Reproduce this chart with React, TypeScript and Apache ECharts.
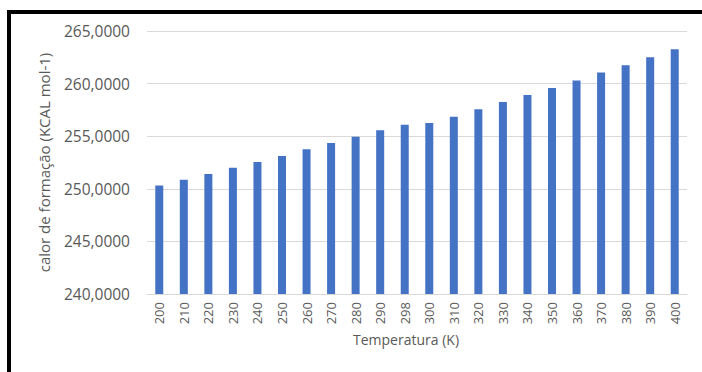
import React, { useEffect, useRef } from "react";
import * as echarts from "echarts";

const categories = ["200", "210", "220", "230", "240", "250", "260", "270", "280", "290", "298", "300", "310", "320", "330", "340", "350", "360", "370", "380", "390", "400"];
const values = [250.31, 250.86, 251.4, 252.0, 252.54, 253.11, 253.75, 254.35, 254.95, 255.56, 256.1, 256.25, 256.86, 257.55, 258.25, 258.92, 259.59, 260.29, 261.05, 261.75, 262.5, 263.27];
const yTicks = { min: 240, max: 265, interval: 5 };
const xTitle = "Temperatura (K)";
const yTitle = "calor de formação (KCAL mol-1)";

export default function App() {
  const ref = useRef<HTMLDivElement>(null);
  useEffect(() => {
    if (!ref.current) return;
    const chart = echarts.init(ref.current, null, { renderer: "svg" });
    const txt = "#595959";
    chart.setOption({
      animation: false,
      backgroundColor: "#ffffff",
      grid: { left: 147, right: 15, top: 31, bottom: 78, containLabel: false, outerBoundsMode: "none" },
      xAxis: {
        type: "category",
        data: categories,
        axisTick: { show: false },
        axisLine: { lineStyle: { color: "#d9d9d9", width: 1 } },
        axisLabel: { rotate: 90, margin: 8, color: txt, fontFamily: "Open Sans", fontSize: 13 },
        name: xTitle,
        nameLocation: "middle",
        nameGap: 38,
        nameTextStyle: { color: txt, fontFamily: "Open Sans", fontSize: 14, padding: [0, 22, 0, 0] },
      },
      yAxis: {
        type: "value",
        min: yTicks.min,
        max: yTicks.max,
        interval: yTicks.interval,
        axisLine: { show: false },
        axisTick: { show: false },
        splitLine: { lineStyle: { color: "#d9d9d9", width: 1 } },
        axisLabel: {
          margin: 17,
          color: txt,
          fontFamily: "Open Sans",
          fontSize: 15.5,
          formatter: (v: number) => v.toFixed(4).replace(".", ","),
        },
        name: yTitle,
        nameLocation: "middle",
        nameGap: 96,
        nameTextStyle: { color: txt, fontFamily: "Open Sans", fontSize: 15 },
      },
      series: [
        {
          type: "bar",
          data: values,
          barWidth: 8,
          itemStyle: { color: "#4472c4" },
        },
      ],
    });
    return () => chart.dispose();
  }, []);
  return (
    <div style={{ position: "fixed", left: 0, top: 0, width: 702, height: 372, background: "#fff", overflow: "hidden" }}>
      <div ref={ref} style={{ position: "absolute", left: 0, top: 0, width: 702, height: 372 }} />
      <div
        style={{
          position: "absolute",
          left: 7,
          top: 10,
          width: 720,
          height: 400,
          borderTop: "4px solid #000",
          borderLeft: "4px solid #000",
          pointerEvents: "none",
        }}
      />
    </div>
  );
}
